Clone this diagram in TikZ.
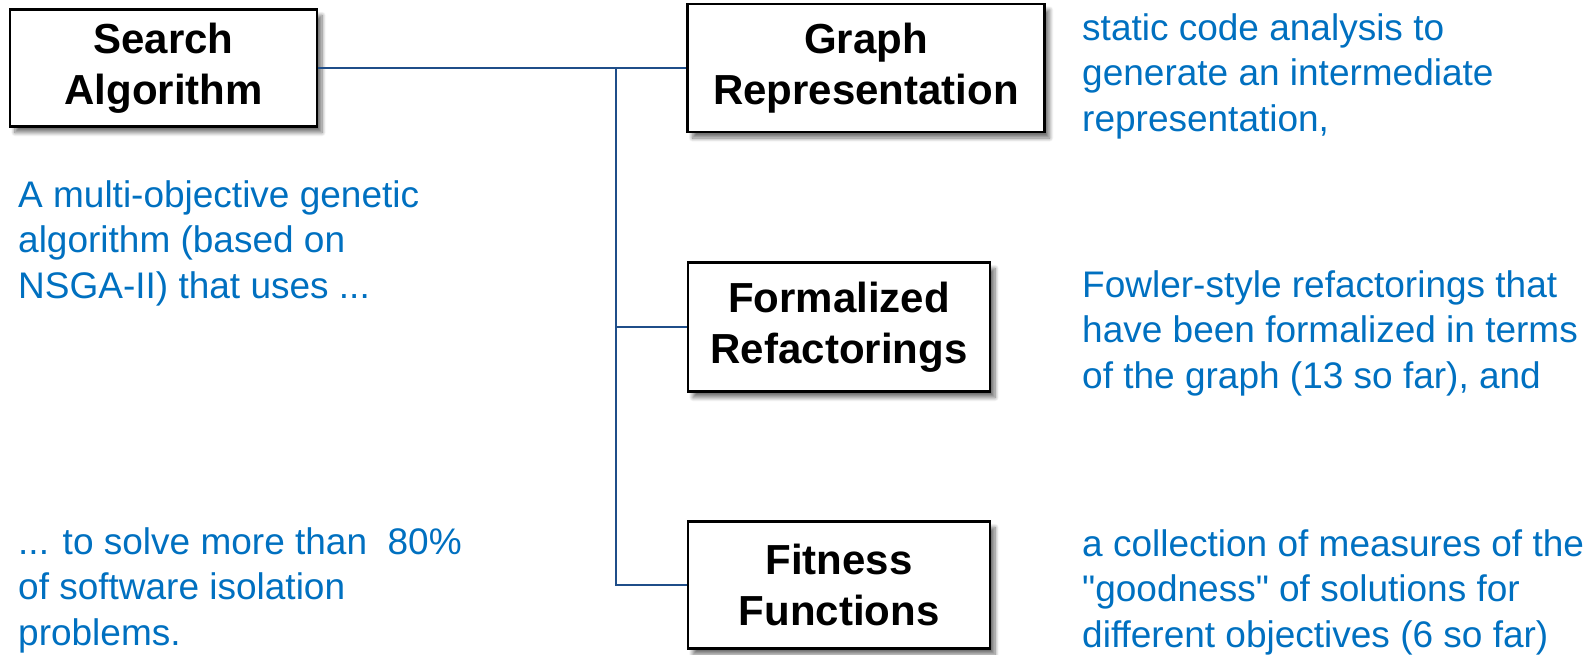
\documentclass[tikz,border=0pt]{standalone}
\usepackage{fontspec}
\setmainfont{Liberation Sans}[Ligatures=TeXOff]
\usetikzlibrary{shadows.blur}
\definecolor{linkblue}{HTML}{1F4E89}
\definecolor{noteblue}{HTML}{0070C0}
\begin{document}
\begin{tikzpicture}[x=1pt,y=-1pt,
  box/.style={draw,line width=2.5pt,fill=white,align=center,inner sep=0pt,
    font=\fontsize{42}{51}\selectfont\bfseries,
    blur shadow={shadow xshift=5pt,shadow yshift=-6pt,shadow blur steps=8,shadow blur radius=4pt,shadow opacity=55}},
  note/.style={anchor=base west,align=left,inner sep=0pt,text=noteblue,
    font=\fontsize{37}{45.5}\selectfont},
  link/.style={linkblue,line width=2.2pt}]
\useasboundingbox (0,0) rectangle (1589,654);
% boxes
\node[box,minimum width=307pt,minimum height=117pt] (search) at (163.5,68) {Search\\Algorithm};
\node[box,minimum width=357pt,minimum height=128pt] (graph) at (866,68) {Graph\\Representation};
\node[box,minimum width=302pt,minimum height=129pt] (refac) at (839,327) {Formalized\\Refactorings};
\node[box,minimum width=302pt,minimum height=127pt] (fitness) at (839,585) {Fitness\\Functions};
% connectors
\coordinate (fork) at (616,68);
\draw[link] (search.east) -- (graph.west);
\draw[link] (fork) |- (refac.west);
\draw[link] (fork) |- (fitness.west);
% notes (anchored at the last line)
\node[note] (ganote) at (18,298) {A multi-objective genetic\\algorithm (based on\\NSGA-II) that uses ...};
\node[note] (solvenote) at (18,645) {... to solve more than \ 80\%\\of software isolation\\problems.};
\node[note] (graphnote) at (1082,131) {static code analysis to\\generate an intermediate\\representation,};
\node[note] (refacnote) at (1082,388) {Fowler-style refactorings that\\have been formalized in terms\\of the graph (13 so far), and};
\node[note] (fitnote) at (1082,647) {a collection of measures of the\\"goodness" of solutions for\\different objectives (6 so far)};
\end{tikzpicture}
\end{document}
